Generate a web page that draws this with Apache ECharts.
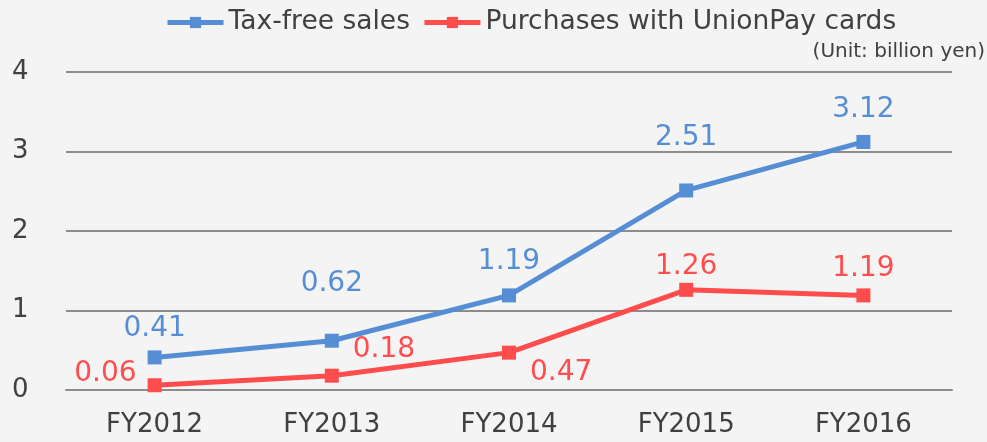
<!DOCTYPE html>
<html>
<head>
<meta charset="utf-8">
<script src="https://cdn.jsdelivr.net/npm/echarts@6/dist/echarts.min.js"></script>
<style>
  html, body { margin: 0; padding: 0; background: #f4f4f4; }
  #chart { width: 987px; height: 442px; }
</style>
</head>
<body>
<div id="chart"></div>
<script>
// values (billion yen)
const years = ['FY2012', 'FY2013', 'FY2014', 'FY2015', 'FY2016']
const taxFree = [0.41, 0.62, 1.19, 2.51, 3.12]
const unionPay = [0.06, 0.18, 0.47, 1.26, 1.19]

const font = 'DejaVu Sans'
const blue = '#558ed5'
const red = '#ff4d4d'

// blue labels are not all at the same height in the original
const blueLabelPos = [
    {position: 'top', offset: [0, 0]},
    {position: 'top', offset: [0, -28]},
    {position: 'top', offset: [0, -5]},
    {position: 'top', offset: [0, -24]},
    {position: 'top', offset: [0, -3]}
]
// red labels sit in different spots so they don't hit the blue line
const redLabelPos = [
    {position: 'left', offset: [-3, -12]},
    {position: 'right', offset: [6, -26]},
    {position: 'right', offset: [6, 20]},
    {position: 'top', offset: [0, 6]},
    {position: 'top', offset: [0, 2]}
]

const chart = echarts.init(document.getElementById('chart'))
chart.setOption({
    backgroundColor: '#f4f4f4',
    animation: false,
    textStyle: {fontFamily: font},
    title: {
        text: '(Unit: billion yen)',
        right: -3,
        top: 37,
        textStyle: {fontFamily: font, fontSize: 20, fontWeight: 'normal', color: '#404040'}
    },
    legend: {
        top: 4,
        left: 160,
        itemWidth: 56,
        itemHeight: 14,
        itemGap: 12,
        lineStyle: {width: 5},
        textStyle: {fontFamily: font, fontSize: 26.5, color: '#404040'},
        data: ['Tax-free sales', 'Purchases with UnionPay cards']
    },
    grid: {left: 66, right: 35, top: 72, bottom: 52},
    xAxis: {
        type: 'category',
        data: years,
        axisTick: {show: false},
        axisLine: {lineStyle: {color: '#8c8c8c', width: 2}},
        axisLabel: {fontFamily: font, fontSize: 26, color: '#404040', margin: 22}
    },
    yAxis: {
        type: 'value',
        min: 0,
        max: 4,
        interval: 1,
        axisLabel: {fontFamily: font, fontSize: 26, color: '#404040', margin: 54, align: 'left'},
        splitLine: {lineStyle: {color: '#8c8c8c', width: 2}}
    },
    series: [
        {
            name: 'Tax-free sales',
            type: 'line',
            data: taxFree.map((v, i) => ({value: v, label: blueLabelPos[i]})),
            symbol: 'rect',
            symbolSize: 14,
            lineStyle: {width: 5, color: blue},
            itemStyle: {color: blue},
            label: {show: true, position: 'top', distance: 8, fontFamily: font, fontSize: 28, color: blue}
        },
        {
            name: 'Purchases with UnionPay cards',
            type: 'line',
            data: unionPay.map((v, i) => ({value: v, label: redLabelPos[i]})),
            symbol: 'rect',
            symbolSize: 14,
            lineStyle: {width: 5, color: red},
            itemStyle: {color: red},
            label: {show: true, position: 'top', distance: 8, fontFamily: font, fontSize: 28, color: red}
        }
    ]
})
</script>
</body>
</html>
